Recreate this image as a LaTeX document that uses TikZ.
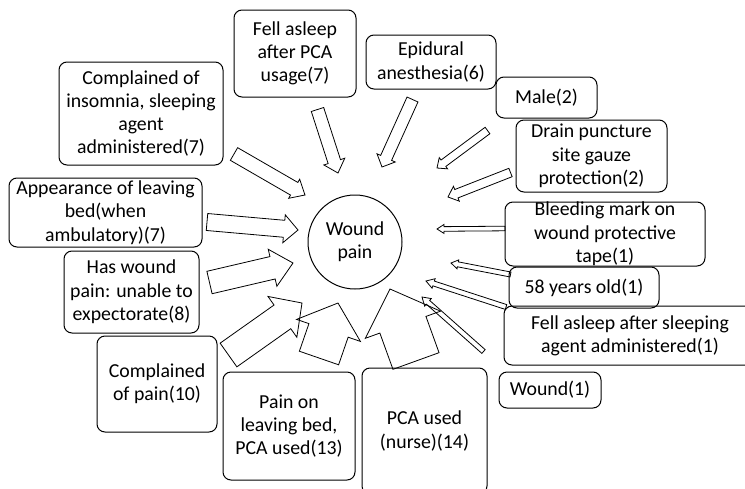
\documentclass[tikz,border=0pt]{standalone}
\usepackage{fontspec}
\setmainfont{Carlito}
\usetikzlibrary{calc}
\tikzset{
  factbox/.style 2 args={draw, rounded corners=8pt, line width=1pt, inner sep=0pt,
    align=center, minimum width=#1, minimum height=#2,
    font=\fontsize{19.8}{23.3}\selectfont},
  blockline/.style={draw, line width=0.8pt, line join=miter},
}
% block arrow from (#1-t) to (#1-h): half shaft, half head, head length
\newcommand{\blockarrow}[4]{%
  \coordinate (#1-hb) at ($(#1-h)!#4pt!(#1-t)$);
  \draw[blockline] ($(#1-t)!#2pt!90:(#1-h)$) -- ($(#1-hb)!#2pt!90:(#1-h)$)
    -- ($(#1-hb)!#3pt!90:(#1-h)$) -- (#1-h)
    -- ($(#1-hb)!#3pt!-90:(#1-h)$) -- ($(#1-hb)!#2pt!-90:(#1-h)$)
    -- ($(#1-t)!#2pt!-90:(#1-h)$) -- cycle;}

\begin{document}
\begin{tikzpicture}[x=1pt, y=-1pt]
  \useasboundingbox (0,0) rectangle (745,488);

  \node[circle, draw, line width=1pt, minimum size=94pt, inner sep=0pt, align=center,
        font=\fontsize{19.8}{23.3}\selectfont] (woundpain) at (355,242) {Wound\\pain};

  \node[factbox={122pt}{87pt}] (fellpca) at (295,53.5) {Fell asleep\\after PCA\\usage(7)};
  \node[factbox={164pt}{103pt}] (insomnia) at (141,113.5) {Complained of\\insomnia, sleeping\\agent\\administered(7)};
  \node[factbox={193pt}{69pt}] (appear) at (105.5,212.5) {Appearance of leaving\\bed(when\\ambulatory)(7)};
  \node[factbox={135pt}{82pt}] (haspain) at (131.5,292) {Has wound\\pain: unable to\\expectorate(8)};
  \node[factbox={120pt}{96pt}] (compl) at (157,384) {Complained\\of pain(10)};
  \node[factbox={132pt}{108pt}] (leavebed) at (289,426) {Pain on\\leaving bed,\\PCA used(13)};
  \node[factbox={125pt}{126pt}] (nurse) at (424.5,431) {PCA used\\(nurse)(14)};
  \node[factbox={130pt}{54pt}] (epidural) at (431,62) {Epidural\\anesthesia(6)};
  \node[factbox={101pt}{41pt}] (male) at (546.5,97.5) {Male(2)};
  \node[factbox={151pt}{72pt}] (drain) at (591.5,156) {Drain puncture\\site gauze\\protection(2)};
  \node[factbox={200pt}{64pt}] (bleed) at (605,234) {Bleeding mark on\\wound protective\\tape(1)};
  \node[factbox={150pt}{41pt}] (years) at (584,287.5) {58 years old(1)};
  \node[factbox={252pt}{59pt}] (sleepagent) at (630,335.5) {Fell asleep after sleeping\\agent administered(1)};
  \node[factbox={102pt}{36pt}] (wound) at (550,390) {Wound(1)};

  % arrow ends
  \coordinate (fellpca-t) at (317.5,109.5);   \coordinate (fellpca-h) at (338,173);
  \coordinate (insomnia-t) at (234,154);      \coordinate (insomnia-h) at (305,195);
  \coordinate (appear-t) at (207,222);        \coordinate (appear-h) at (298,230);
  \coordinate (haspain-t) at (209.5,282.5);   \coordinate (haspain-h) at (293,263);
  \coordinate (compl-t) at (228.5,355);       \coordinate (compl-h) at (302,303);
  \coordinate (leavebed-t) at (319,358);      \coordinate (leavebed-h) at (338,303);
  \coordinate (nurse-t) at (416,361);         \coordinate (nurse-h) at (390,289);
  \coordinate (epidural-t) at (412.5,99.5);   \coordinate (epidural-h) at (382,167);
  \coordinate (male-t) at (487.5,130.5);      \coordinate (male-h) at (437,168);
  \coordinate (drain-t) at (510.5,172.5);     \coordinate (drain-h) at (448,197);
  \coordinate (bleed-t) at (505,228.5);       \coordinate (bleed-h) at (437,229);
  \coordinate (years-t) at (510.5,274.5);     \coordinate (years-h) at (451,263);
  \coordinate (sleepagent-t) at (506,307);    \coordinate (sleepagent-h) at (426,281);
  \coordinate (wound-t) at (483.5,351.5);     \coordinate (wound-h) at (422,297);

  \blockarrow{fellpca}{6.5}{11}{12}
  \blockarrow{insomnia}{7.3}{11}{12.5}
  \blockarrow{appear}{8.5}{14}{14}
  \blockarrow{haspain}{11.5}{19}{21}
  \blockarrow{compl}{14.5}{25}{24}
  \blockarrow{leavebed}{20.75}{33.75}{29}
  \blockarrow{nurse}{24.5}{40}{38}
  \blockarrow{epidural}{6}{10}{10}
  \blockarrow{male}{4}{7}{8}
  \blockarrow{drain}{4.5}{8}{9}
  \blockarrow{bleed}{2.3}{4.5}{7}
  \blockarrow{years}{2.5}{4.5}{7}
  \blockarrow{sleepagent}{2.5}{5}{8}
  \blockarrow{wound}{2.5}{5}{8}
\end{tikzpicture}
\end{document}
